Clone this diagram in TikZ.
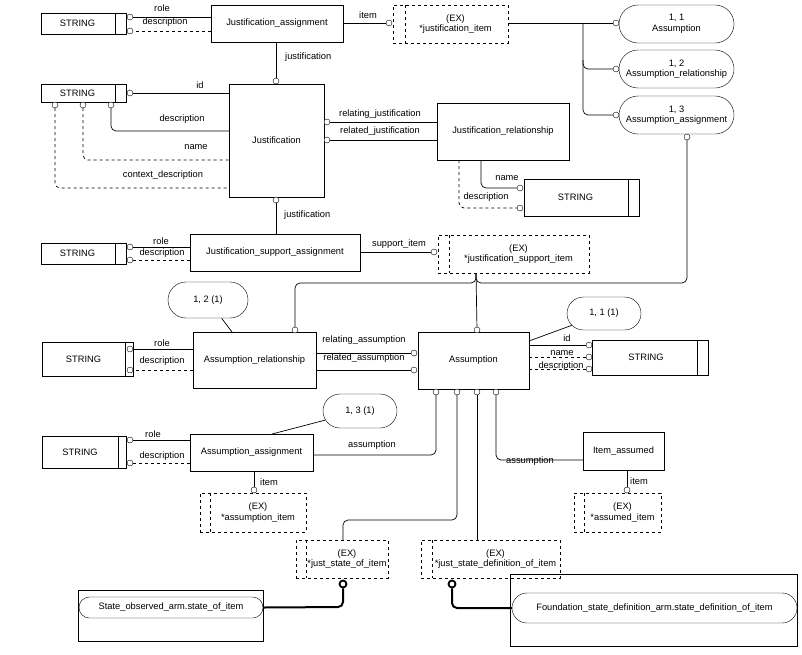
\documentclass[tikz,border=0pt]{standalone}
\usepackage{fontspec}
\setmainfont{Liberation Sans}
\usetikzlibrary{shapes.misc}
\newcommand\bx[7]{\node[#7, minimum width={(#4-#2)*1pt}, minimum height={(#5-#3)*1pt}] (#1) at ({(#2+#4)/2},{(#3+#5)/2}) {#6};}
\newcommand\oc[3]{\node[oc] (#1) at (#2,#3) {};}
\begin{document}
\begin{tikzpicture}[x=1pt,y=-1pt,font=\fontsize{9.3}{10.5}\selectfont,
  box/.style={draw,inner sep=0pt,align=center},
  ex/.style={draw,dashed,inner sep=0pt,align=center},
  sel/.style={draw,rounded rectangle,inner sep=0pt,align=center},
  oc/.style={circle,draw,fill=white,inner sep=0pt,minimum size=6pt},
  ln/.style={line width=0.7pt},
  dl/.style={line width=0.7pt,dashed},
  lb/.style={inner sep=1pt},
  rc/.style={rounded corners=5pt}]
\useasboundingbox (0,0) rectangle (802,654);
% ---- boxes
\bx{s1}{41}{13}{126}{34}{STRING\hspace{12pt}}{box}
\draw (s1.north east) ++(-11,0) -- ++(0,21);
\bx{ja}{211}{5}{343}{42}{Justification\_assignment}{box}
\bx{ex1}{393}{5}{508}{43}{\hspace{10pt}(EX)\\\hspace{10pt}*justification\_item}{ex}
\draw[dashed] (405,5) -- (405,43);
\bx{sa}{619}{5}{734}{43}{1, 1\\Assumption}{sel}
\bx{sb}{619}{50}{734}{88}{1, 2\\Assumption\_relationship}{sel}
\bx{sc}{619}{96}{734}{134}{1, 3\\Assumption\_assignment}{sel}
\bx{s2}{41}{84}{126}{102}{STRING\hspace{12pt}}{box}
\draw (115,84) -- (115,102);
\bx{j}{229}{84}{324}{197}{Justification}{box}
\bx{jr}{437}{103}{569}{160}{Justification\_relationship}{box}
\bx{s3}{524}{179}{639}{216}{STRING\hspace{12pt}}{box}
\draw (628,179) -- (628,216);
\bx{jsa}{190}{234}{360}{271}{Justification\_support\_assignment}{box}
\bx{s4}{41}{243}{126}{264}{STRING\hspace{12pt}}{box}
\draw (115,243) -- (115,264);
\bx{ex2}{438}{235}{589}{273}{\hspace{10pt}(EX)\\\hspace{10pt}*justification\_support\_item}{ex}
\draw[dashed] (449,235) -- (449,273);
\bx{ar}{193}{332}{316}{388}{Assumption\_relationship}{box}
\bx{o12}{168}{282}{248}{318}{1, 2 (1)}{sel}
\bx{s5}{42}{342}{133}{376}{STRING\hspace{8pt}}{box}
\draw (125,342) -- (125,376);
\bx{a}{418}{332}{529}{389}{Assumption}{box}
\bx{o11}{567}{297}{641}{330}{1, 1 (1)}{sel}
\bx{s6}{592}{340}{708}{375}{STRING\hspace{8pt}}{box}
\draw (697,340) -- (697,375);
\bx{aa}{190}{434}{313}{471}{Assumption\_assignment}{box}
\bx{o13}{323}{394}{397}{428}{1, 3 (1)}{sel}
\bx{s7}{42}{436}{126}{468}{STRING\hspace{8pt}}{box}
\draw (118,436) -- (118,468);
\bx{ia}{583}{432}{664}{470}{Item\_assumed}{box}
\bx{ex3}{200}{493}{306}{532}{\hspace{10pt}(EX)\\\hspace{10pt}*assumption\_item}{ex}
\draw[dashed] (210,493) -- (210,532);
\bx{ex4}{574}{493}{661}{532}{\hspace{10pt}(EX)\\\hspace{10pt}*assumed\_item}{ex}
\draw[dashed] (584,493) -- (584,532);
\bx{ex5}{296}{540}{388}{578}{\hspace{10pt}(EX)\\\hspace{10pt}*just\_state\_of\_item}{ex}
\draw[dashed] (306,540) -- (306,578);
\bx{ex6}{421}{540}{560}{578}{\hspace{10pt}(EX)\\\hspace{10pt}*just\_state\_definition\_of\_item}{ex}
\draw[dashed] (432,540) -- (432,578);
\bx{so}{78}{590}{263}{641}{}{box}
\bx{sop}{79}{597}{263}{618}{State\_observed\_arm.state\_of\_item}{sel}
\bx{fs}{510}{574}{797}{646}{}{box}
\bx{fsp}{512}{593}{797}{623}{Foundation\_state\_definition\_arm.state\_definition\_of\_item}{sel}
% ---- circles
\oc{c1}{130}{17}\oc{c2}{130}{31}
\oc{c3}{389}{23}
\oc{c4}{616}{23}\oc{c5}{616}{69}\oc{c6}{616}{115}
\oc{c7}{276}{81}
\oc{c8}{130}{93}\oc{c9}{55}{105}\oc{c10}{83}{105}\oc{c11}{111}{105}
\oc{c12}{327}{122}\oc{c13}{327}{140}
\oc{c14}{520}{188}\oc{c15}{520}{208}
\oc{c16}{276}{200}
\oc{c17}{130}{247}\oc{c18}{130}{260}
\oc{c19}{434}{252}
\oc{c20}{687}{137}
\oc{c21}{295}{330}\oc{c22}{477}{330}
\oc{c23}{130}{349}\oc{c24}{130}{370}
\oc{c25}{414}{353}\oc{c26}{414}{370}
\oc{c27}{589}{345}\oc{c28}{589}{357}\oc{c29}{589}{369}
\oc{c30}{436}{392}\oc{c31}{457}{392}\oc{c32}{477}{392}\oc{c33}{496}{392}
\oc{c34}{130}{440}\oc{c35}{130}{463}
\oc{c36}{254}{490}\oc{c37}{627}{490}
\node[oc,line width=1.8pt,minimum size=7pt] (c38) at (343,584) {};
\node[oc,line width=1.8pt,minimum size=7pt] (c39) at (452,584) {};
% ---- connectors
\draw[ln] (ja.west |- c1) -- (c1);
\draw[dl] (ja.west |- c2) -- (c2);
\draw[ln] (ja.east |- c3) -- (c3);
\draw[ln] (ex1.east |- c4) -- (c4);
\draw[ln,rc] (583,23) -- (583,69) -- (c5);
\draw[ln,rc] (583,60) -- (583,115) -- (c6);
\draw[ln] (ja.south -| c7) -- (c7);
\draw[ln] (c8) -- (j.west |- c8);
\draw[ln,rc] (c11) -- (111,131) -- (j.west |- 0,131);
\draw[dl,rc] (c10) -- (83,160) -- (j.west |- 0,160);
\draw[dl,rc] (c9) -- (55,188) -- (j.west |- 0,188);
\draw[ln] (c12) -- (jr.west |- c12);
\draw[ln] (c13) -- (jr.west |- c13);
\draw[ln,rc] (481,160) -- (481,188) -- (c14);
\draw[dl,rc] (459,160) -- (459,208) -- (c15);
\draw[ln] (c16) -- (jsa.north -| c16);
\draw[ln] (jsa.west |- c17) -- (c17);
\draw[dl] (jsa.west |- c18) -- (c18);
\draw[ln] (jsa.east |- c19) -- (c19);
\draw[ln] (476,273) -- (c22);
\draw[ln,rc] (476,273) -- (476,283) -- (295,283) -- (c21);
\draw[ln,rc] (476,273) -- (476,283) -- (687,283) -- (c20);
\draw[ln] (o12) -- (232,332);
\draw[ln] (ar.west |- c23) -- (c23);
\draw[dl] (ar.west |- c24) -- (c24);
\draw[ln] (ar.east |- c25) -- (c25);
\draw[ln] (ar.east |- c26) -- (c26);
\draw[ln] (o11) -- (529,341);
\draw[ln] (a.east |- c27) -- (c27);
\draw[dl] (a.east |- c28) -- (c28);
\draw[dl] (a.east |- c29) -- (c29);
\draw[ln] (o13) -- (272,434);
\draw[ln] (aa.west |- c34) -- (c34);
\draw[dl] (aa.west |- c35) -- (c35);
\draw[ln,rc] (aa.east |- 0,455) -- (436,455) -- (c30);
\draw[ln,rc] (ia.west |- 0,460) -- (496,460) -- (c33);
\draw[ln] (aa.south -| c36) -- (c36);
\draw[ln] (ia.south -| c37) -- (c37);
\draw[ln,rc] (c31) -- (457,520) -- (343,520) -- (ex5.north -| 343,0);
\draw[ln] (c32) -- (ex6.north -| c32);
\draw[line width=2pt,rc] (sop.east) -- (343,607) -- (c38);
\draw[line width=2pt,rc] (fsp.west) -- (452,608) -- (c39);
% ---- labels
\node[lb] at (162,8) {role};
\node[lb] at (165,22) {description};
\node[lb] at (368,15) {item};
\node[lb,anchor=west] at (284,57) {justification};
\node[lb] at (200,85) {id};
\node[lb] at (182,119) {description};
\node[lb] at (196,147) {name};
\node[lb] at (163,175) {context\_description};
\node[lb] at (380,114) {relating\_justification};
\node[lb] at (380,131) {related\_justification};
\node[lb] at (507,178) {name};
\node[lb] at (486,197) {description};
\node[lb,anchor=west] at (283,215) {justification};
\node[lb] at (161,241) {role};
\node[lb] at (162,253) {description};
\node[lb] at (399,244) {support\_item};
\node[lb] at (162,343) {role};
\node[lb] at (162,361) {description};
\node[lb] at (364,340) {relating\_assumption};
\node[lb] at (364,358) {related\_assumption};
\node[lb] at (567,338) {id};
\node[lb] at (562,353) {name};
\node[lb] at (561,366) {description};
\node[lb] at (153,434) {role};
\node[lb] at (162,456) {description};
\node[lb] at (372,445) {assumption};
\node[lb] at (530,461) {assumption};
\node[lb] at (269,482) {item};
\node[lb] at (639,481) {item};
\end{tikzpicture}
\end{document}
